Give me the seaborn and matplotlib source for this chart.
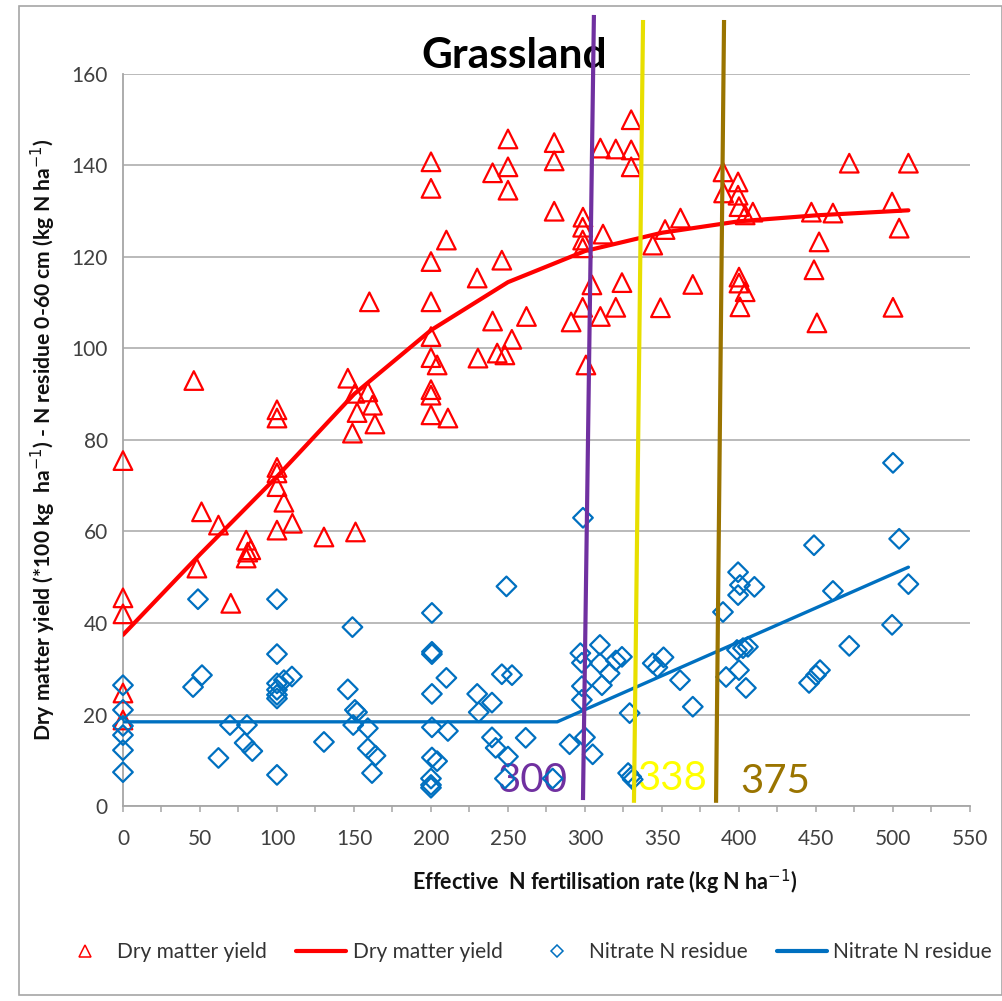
import matplotlib
matplotlib.use("Agg")
import matplotlib.pyplot as plt
import seaborn as sns
import pandas as pd
from matplotlib.lines import Line2D
from matplotlib.patches import Rectangle
from matplotlib.ticker import MultipleLocator

# Dry matter yield observations (x: effective N rate, y: *100 kg ha-1)
dm_rate = [0, 0, 0, 0, 0,
           46, 48, 51, 62, 70, 80, 81, 80, 83,
           100, 100, 100, 100, 100, 100, 104.5, 110, 130.5,
           146, 149, 150.6, 151, 152, 159, 160, 162, 163.6,
           200, 200, 200, 200, 200, 200, 200, 200, 200, 204, 210, 211,
           230, 230.5, 240, 240, 243, 246, 248, 250, 250, 250, 252.5, 262,
           280, 280, 280, 291,
           298.7, 298.5, 298.5, 298.5, 298.5, 300.6, 304.5, 310, 310, 311.7,
           320, 320, 324, 330, 330, 330,
           344, 349, 352, 362, 370,
           389.6, 390, 399.4, 399.4, 400, 400, 400, 400.6, 404, 404, 409,
           447, 448.7, 450.6, 452, 461, 471.6,
           499.4, 500, 504, 510]
dm_yield = [75.5, 45.5, 42, 24.7, 18.8,
            93, 52, 64.3, 61.4, 44.3, 58.1, 55.5, 54.2, 56,
            86.6, 84.8, 74, 72.8, 69.8, 60.3, 66.4, 61.8, 58.8,
            93.5, 81.5, 90.2, 59.9, 86, 90.5, 110.2, 87.6, 83.5,
            140.8, 135, 119, 110.2, 102.6, 98, 91, 89.8, 85.5, 96.4, 123.7, 84.8,
            115.4, 97.9, 138.4, 106, 99, 119.3, 98.6, 145.8, 139.7, 134.6, 102, 107,
            145, 141, 130, 105.8,
            128.7, 126.5, 123.7, 122, 109, 96.4, 113.9, 143.8, 107, 125,
            143.6, 109, 114.4, 150, 143.4, 139.7,
            122.6, 108.9, 126, 128.5, 114,
            138.6, 134, 136.4, 133.5, 131, 115.6, 114.3, 109.1, 129.2, 112.4, 129.8,
            129.8, 117.2, 105.6, 123.3, 129.6, 140.5,
            132, 109, 126.3, 140.5]

# Fitted dry matter response curve
dm_fit_rate = [0, 50, 100, 150, 200, 250, 300, 350, 400, 450, 510]
dm_fit_yield = [37.4, 55, 72, 90, 104, 114.5, 121.3, 125.3, 127.8, 129.1, 130.2]

# Nitrate N residue 0-60 cm (kg N ha-1)
no3_rate = [0, 0, 0, 0, 0, 0,
            45.5, 48.7, 51.3, 62, 69.5, 79, 80.5, 84,
            100, 100, 100, 100, 100, 100, 100, 104.5, 109.7,
            130.5, 146, 149, 149.5, 150.6, 152, 159, 159, 161.7, 164,
            200.6, 200.6, 200.6, 200.6, 200.6, 200.6, 204, 200, 200, 200, 210, 211,
            230, 231, 239.6, 239.6, 242, 246, 249, 250, 252.6, 261.5, 248, 279,
            290, 298.7, 297, 298, 298, 298, 300, 305, 309.7, 309.7, 311, 316, 320, 324,
            329, 328, 330, 331,
            344, 347, 351, 361.7, 370,
            389.6, 391.6, 398.7, 402.6, 405.8, 399.4, 400.6, 399.4, 400, 404.5, 410,
            445.5, 448.7, 450, 452.6, 461, 471.6,
            499.4, 500, 504, 510]
no3_residue = [26.4, 21, 17.5, 15.5, 12.2, 7.4,
               26, 45.2, 28.6, 10.5, 17.7, 13.8, 17.7, 12,
               45.2, 33.2, 26.8, 25.4, 24.3, 23.5, 6.8, 27.5, 28.3,
               14, 25.5, 39.1, 17.7, 21, 20.5, 17, 12.6, 7.2, 11,
               42.2, 33.7, 33.2, 24.5, 17.2, 10.6, 9.8, 6, 4.6, 4, 28, 16.4,
               24.5, 20.5, 22.6, 15, 12.7, 28.8, 48, 10.8, 28.6, 14.9, 6, 6,
               13.5, 63, 33.4, 31.3, 26.2, 23.2, 15, 11.3, 35.2, 31.2, 26.4, 29, 31.8, 32.6,
               20.3, 7.2, 6.4, 5.8,
               31.2, 30.3, 32.5, 27.5, 21.7,
               42.4, 28.2, 34.1, 34.5, 34.8, 51.1, 48.3, 46.1, 29.7, 25.8, 47.9,
               26.9, 57, 28.6, 29.7, 47, 35,
               39.6, 75, 58.4, 48.5]

# Fitted nitrate residue (plateau then linear rise)
no3_fit_rate = [0, 282, 510]
no3_fit_residue = [18.4, 18.4, 52.2]

# Hand-marked N rate thresholds
threshold_labels = ["300", "338", "375"]
threshold_line_colors = ["#7030A0", "#E8DF00", "#9A7400"]
threshold_text_colors = ["#7030A0", "#FFFF00", "#9A7400"]
threshold_x_bottom = [298.7, 331.8, 385.1]
threshold_x_top = [305.8, 337.7, 390.3]
threshold_y_bottom = [1.3, 0.7, 0.7]
threshold_y_top = [172.9, 171.8, 171.8]
threshold_label_x = [265.6, 356.5, 423.4]
threshold_label_y = [3.1, 3.5, 2.8]

RED = "#FF0000"
BLUE = "#0070C0"
GRID = "#B4B4B4"
TICK_TXT = "#404040"

sns.set_theme(style="white")
plt.rcParams["font.family"] = ["Lato", "DejaVu Sans"]

fig = plt.figure(figsize=(10.03, 10.01), dpi=100)
ax = fig.add_axes([0.1226, 0.1948, 0.8445, 0.7313])

dm = pd.DataFrame({"rate": dm_rate, "value": dm_yield})
no3 = pd.DataFrame({"rate": no3_rate, "value": no3_residue})
dm_fit = pd.DataFrame({"rate": dm_fit_rate, "value": dm_fit_yield})
no3_fit = pd.DataFrame({"rate": no3_fit_rate, "value": no3_fit_residue})

sns.scatterplot(data=dm, x="rate", y="value", marker="^", s=180, ax=ax,
                legend=False, zorder=3, clip_on=False)
tri = ax.collections[-1]
tri.set_facecolor("none")
tri.set_edgecolor(RED)
tri.set_linewidth(1.6)

sns.scatterplot(data=no3, x="rate", y="value", marker="D", s=100, ax=ax,
                legend=False, zorder=3, clip_on=False)
dia = ax.collections[-1]
dia.set_facecolor("none")
dia.set_edgecolor(BLUE)
dia.set_linewidth(1.6)

sns.lineplot(data=dm_fit, x="rate", y="value", color=RED, lw=3.0, ax=ax,
             sort=False, estimator=None, legend=False, zorder=4)
sns.lineplot(data=no3_fit, x="rate", y="value", color=BLUE, lw=2.4, ax=ax,
             sort=False, estimator=None, legend=False, zorder=4)

# threshold markers drawn over the chart
for lab, lc, tc, xb, xt, yb, yt, lx, ly in zip(
        threshold_labels, threshold_line_colors, threshold_text_colors,
        threshold_x_bottom, threshold_x_top, threshold_y_bottom, threshold_y_top,
        threshold_label_x, threshold_label_y):
    ax.plot([xb, xt], [yb, yt], color=lc, lw=3.0, clip_on=False, zorder=10,
            solid_capstyle="butt")
    ax.text(lx, ly, lab, color=tc, fontsize=29, ha="center", va="baseline",
            zorder=2.5)

ax.set_xlim(0, 550)
ax.set_ylim(0, 160)
ax.xaxis.set_major_locator(MultipleLocator(50))
ax.xaxis.set_minor_locator(MultipleLocator(25))
ax.yaxis.set_major_locator(MultipleLocator(20))

ax.yaxis.grid(True, color=GRID, lw=1.3)
ax.xaxis.grid(False)
ax.set_axisbelow(True)

for side in ("top", "right"):
    ax.spines[side].set_visible(False)
for side in ("left", "bottom"):
    ax.spines[side].set_color("#A6A6A6")
    ax.spines[side].set_linewidth(1.3)

ax.tick_params(axis="x", which="both", direction="out", length=4.5, width=1.1,
               color="#A6A6A6", bottom=True)
ax.tick_params(axis="x", which="major", labelsize=15, labelcolor=TICK_TXT, pad=12)
ax.tick_params(axis="y", which="major", length=0, labelsize=15,
               labelcolor=TICK_TXT, pad=11)

ax.set_xlabel("Effective  N fertilisation rate (kg N ha$^{-1}$)", fontsize=15.5,
              fontweight="bold", color="#111111", va="center")
ax.xaxis.set_label_coords(0.569, -0.105)
ax.set_ylabel("Dry matter yield (*100 kg  ha$^{-1}$) - N residue 0-60 cm (kg N ha$^{-1}$)",
              fontsize=15.2, fontweight="bold", color="#111111", va="center")
ax.yaxis.set_label_coords(-0.0945, 0.5)

ax.text(514 / 1003, 1 - 68 / 1001, "Grassland", transform=fig.transFigure,
        fontsize=30.5, fontweight="bold", color="#000000", ha="center",
        va="baseline", zorder=1)

handles = [
    Line2D([], [], ls="none", marker="^", ms=9, mfc="none", mec=RED, mew=1.1),
    Line2D([], [], color=RED, lw=3),
    Line2D([], [], ls="none", marker="D", ms=6, mfc="none", mec=BLUE, mew=1.1),
    Line2D([], [], color=BLUE, lw=3),
]
labels = ["Dry matter yield", "Dry matter yield", "Nitrate N residue", "Nitrate N residue"]
fig.legend(handles, labels, loc="center", bbox_to_anchor=(526 / 1003, 1 - 952 / 1001),
           ncol=4, frameon=False, fontsize=15, handlelength=2.4, handletextpad=0.33,
           columnspacing=1.4, borderpad=0, borderaxespad=0, labelcolor="#333333")

fig.add_artist(Rectangle((19 / 1003, 6 / 1001), 1 - 20 / 1003, 1 - 12 / 1001,
                         transform=fig.transFigure, fill=False, ec="#A6A6A6", lw=1.2))

fig.savefig("out.png", dpi=100, facecolor="white")
